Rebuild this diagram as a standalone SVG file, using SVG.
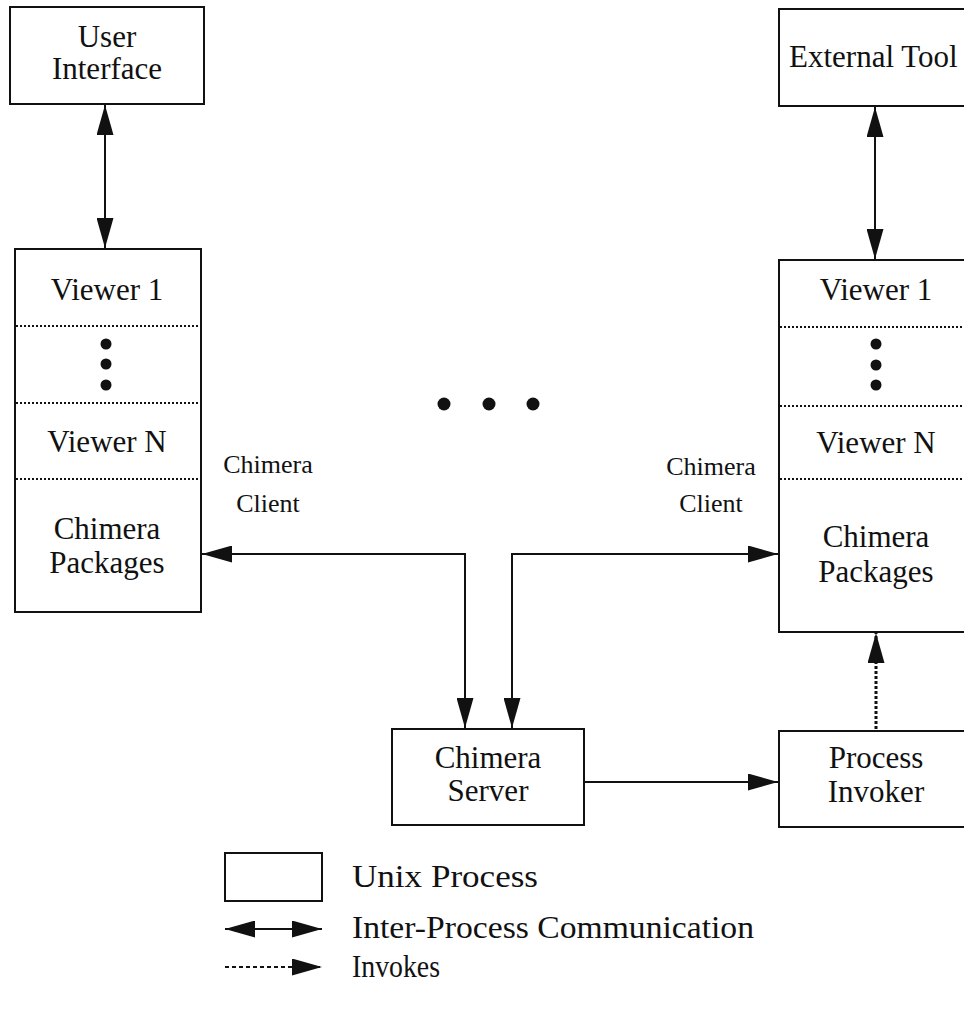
<svg xmlns="http://www.w3.org/2000/svg" width="964" height="1019" viewBox="0 0 964 1019">
<style>
.box{fill:#fff;stroke:#111;stroke-width:2}
.sep{stroke:#111;stroke-width:2;stroke-dasharray:2 2}
.t{font-family:"Liberation Serif","Times New Roman",serif;font-size:31px;fill:#111;text-anchor:middle}
.s{font-family:"Liberation Serif","Times New Roman",serif;font-size:26px;fill:#111;text-anchor:middle}
.lg{font-family:"Liberation Serif","Times New Roman",serif;font-size:32px;fill:#111}
.c{fill:none;stroke:#111;stroke-width:2}
.dot{fill:#111}
</style>
<defs>
<marker id="ah" markerUnits="userSpaceOnUse" viewBox="0 0 30 17" refX="30" refY="8.5" markerWidth="30" markerHeight="17" orient="auto-start-reverse">
<path d="M0,0 L30,8.5 L0,17 z" fill="#111"/>
</marker>
</defs>
<g id="user-interface">
<rect class="box" x="10" y="7" width="194" height="97"/>
<text class="t" x="107" y="47">User</text>
<text class="t" x="107" y="79">Interface</text>
</g>
<g id="external-tool">
<rect class="box" x="779" y="9" width="200" height="97"/>
<text class="t" x="789" y="67" style="text-anchor:start">External Tool</text>
</g>
<g id="left-client">
<rect class="box" x="15" y="249" width="186" height="363"/>
<line class="sep" x1="16" y1="326" x2="200" y2="326"/>
<line class="sep" x1="16" y1="403" x2="200" y2="403"/>
<line class="sep" x1="16" y1="479" x2="200" y2="479"/>
<text class="t" x="107" y="300">Viewer 1</text>
<circle class="dot" cx="106" cy="344" r="5.5"/>
<circle class="dot" cx="106" cy="364" r="5.5"/>
<circle class="dot" cx="106" cy="385" r="5.5"/>
<text class="t" x="107" y="452">Viewer N</text>
<text class="t" x="107" y="539">Chimera</text>
<text class="t" x="107" y="573">Packages</text>
</g>
<g id="right-client">
<rect class="box" x="779" y="260" width="200" height="372"/>
<line class="sep" x1="780" y1="327" x2="964" y2="327"/>
<line class="sep" x1="780" y1="406" x2="964" y2="406"/>
<line class="sep" x1="780" y1="479" x2="964" y2="479"/>
<text class="t" x="876" y="300">Viewer 1</text>
<circle class="dot" cx="876" cy="344" r="5.5"/>
<circle class="dot" cx="876" cy="365" r="5.5"/>
<circle class="dot" cx="876" cy="385" r="5.5"/>
<text class="t" x="876" y="453">Viewer N</text>
<text class="t" x="876" y="547">Chimera</text>
<text class="t" x="876" y="582">Packages</text>
</g>
<g id="chimera-server">
<rect class="box" x="392" y="729" width="192" height="96"/>
<text class="t" x="488" y="768">Chimera</text>
<text class="t" x="488" y="801">Server</text>
</g>
<g id="process-invoker">
<rect class="box" x="779" y="731" width="200" height="96"/>
<text class="t" x="876" y="768">Process</text>
<text class="t" x="876" y="802">Invoker</text>
</g>
<g id="ellipsis">
<circle class="dot" cx="444" cy="404" r="6.5"/>
<circle class="dot" cx="489" cy="404" r="6.5"/>
<circle class="dot" cx="533" cy="404" r="6.5"/>
</g>
<g id="labels">
<text class="s" x="268" y="473">Chimera</text>
<text class="s" x="268" y="512">Client</text>
<text class="s" x="711" y="475">Chimera</text>
<text class="s" x="711" y="512">Client</text>
</g>
<g id="connectors">
<line class="c" x1="105" y1="105" x2="105" y2="248" marker-start="url(#ah)" marker-end="url(#ah)"/>
<line class="c" x1="875" y1="107" x2="875" y2="259" marker-start="url(#ah)" marker-end="url(#ah)"/>
<polyline class="c" points="202,554 465,554 465,728" marker-start="url(#ah)" marker-end="url(#ah)"/>
<polyline class="c" points="512,728 512,554 778,554" marker-start="url(#ah)" marker-end="url(#ah)"/>
<line class="c" x1="585" y1="782" x2="778" y2="782" marker-end="url(#ah)"/>
<line class="c" x1="876" y1="729" x2="876" y2="633" style="stroke-width:3;stroke-dasharray:3 2" marker-end="url(#ah)"/>
</g>
<g id="legend">
<rect class="box" x="225" y="853" width="97" height="48"/>
<text class="lg" x="352" y="887" textLength="186" lengthAdjust="spacingAndGlyphs">Unix Process</text>
<line class="c" x1="225" y1="929" x2="322" y2="929" marker-start="url(#ah)" marker-end="url(#ah)"/>
<text class="lg" x="352" y="938" textLength="402" lengthAdjust="spacingAndGlyphs">Inter-Process Communication</text>
<line class="c" x1="225" y1="967" x2="322" y2="967" style="stroke-dasharray:4 3" marker-end="url(#ah)"/>
<text class="lg" x="352" y="977" textLength="88" lengthAdjust="spacingAndGlyphs">Invokes</text>
</g>
</svg>
